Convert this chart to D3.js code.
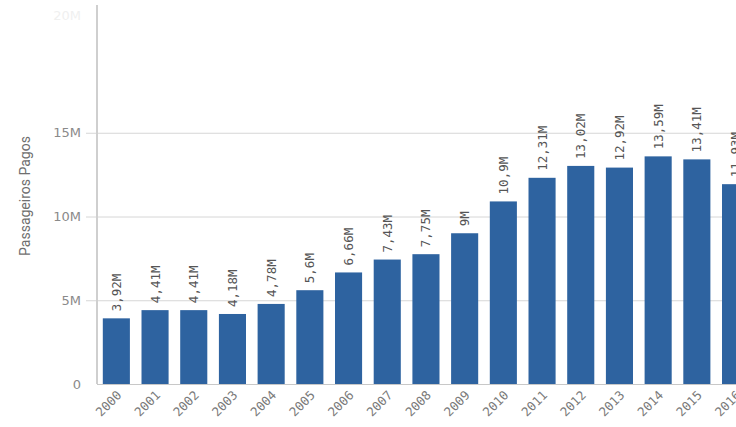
<!DOCTYPE html>
<html>
<head>
<meta charset="utf-8">
<script src="https://cdn.jsdelivr.net/npm/d3@7"></script>
<style>
	html, body { margin: 0; background: #fff; overflow: hidden; }
	svg { display: block; }
</style>
</head>
<body>
<svg id="chart" width="736" height="427"></svg>
<script>
'use strict';

// data
const years = ['2000','2001','2002','2003','2004','2005','2006','2007','2008',
	'2009','2010','2011','2012','2013','2014','2015','2016'];
const passengers = [3.92, 4.41, 4.41, 4.18, 4.78, 5.6, 6.66, 7.43, 7.75,
	9, 10.9, 12.31, 13.02, 12.92, 13.59, 13.41, 11.93];
const valueLabels = ['3,92M','4,41M','4,41M','4,18M','4,78M','5,6M','6,66M','7,43M','7,75M',
	'9M','10,9M','12,31M','13,02M','12,92M','13,59M','13,41M','11,93M'];
const yTicks = [0, 5, 10, 15];
const yTickLabels = ['0', '5M', '10M', '15M'];
const yTitle = 'Passageiros Pagos';

const svg = d3.select('#chart');
const left = 97, bottom = 384, step = 38.7;

const x = d3.scaleBand()
	.domain(years)
	.range([left, left + step * years.length])
	.paddingInner(0.3)
	.paddingOuter(0.15);

const y = d3.scaleLinear()
	.domain([0, 20])
	.range([bottom, 49]);

/* gridlines */
svg.append('g')
	.selectAll('line')
	.data(yTicks.slice(1))
	.join('line')
		.attr('x1', 86)
		.attr('x2', 736)
		.attr('y1', d => y(d) + 0.5)
		.attr('y2', d => y(d) + 0.5)
		.attr('stroke', '#d6d6d6');

/* y tick labels */
svg.append('g')
	.selectAll('text')
	.data(yTicks)
	.join('text')
		.attr('x', 81)
		.attr('y', d => y(d))
		.attr('dy', '0.35em')
		.attr('text-anchor', 'end')
		.style('font-family', 'DejaVu Sans')
		.style('font-size', '13px')
		.attr('fill', '#8a8a8a')
		.text((d, i) => yTickLabels[i]);

// faded top label, the chart fades out there
svg.append('text')
	.attr('x', 81)
	.attr('y', 15)
	.attr('dy', '0.35em')
	.attr('text-anchor', 'end')
	.style('font-family', 'DejaVu Sans')
	.style('font-size', '13px')
	.attr('fill', '#f0f0f0')
	.text('20M');

/* axis title */
svg.append('text')
	.attr('transform', 'translate(30,196) rotate(-90)')
	.attr('text-anchor', 'middle')
	.style('font-family', 'Roboto')
	.style('font-size', '14px')
	.attr('fill', '#6f6f6f')
	.text(yTitle);

/* bars */
svg.append('g')
	.selectAll('rect')
	.data(passengers)
	.join('rect')
		.attr('x', (d, i) => x(years[i]))
		.attr('y', d => y(d))
		.attr('width', x.bandwidth())
		.attr('height', d => bottom - y(d))
		.attr('fill', '#2e63a0');

/* axis lines */
svg.append('line')
	.attr('x1', left).attr('x2', left)
	.attr('y1', 5).attr('y2', bottom)
	.attr('stroke', '#cfcfcf')
	.attr('stroke-width', 2);
svg.append('line')
	.attr('x1', left).attr('x2', 736)
	.attr('y1', bottom + 0.5).attr('y2', bottom + 0.5)
	.attr('stroke', '#c8c8c8');

/* value labels */
svg.append('g')
	.selectAll('text')
	.data(passengers)
	.join('text')
		.attr('transform', (d, i) =>
			`translate(${x(years[i]) + x.bandwidth() / 2 + 4.5},${y(d) - 7}) rotate(-90)`)
		.attr('text-anchor', 'start')
		.style('font-family', 'DejaVu Sans Mono')
		.style('font-size', '12.5px')
		.attr('fill', '#555')
		.text((d, i) => valueLabels[i]);

/* x labels */
svg.append('g')
	.selectAll('text')
	.data(years)
	.join('text')
		.attr('transform', d =>
			`translate(${x(d) + x.bandwidth() / 2 + 6},${bottom + 12}) rotate(-45)`)
		.attr('text-anchor', 'end')
		.style('font-family', 'DejaVu Sans Mono')
		.style('font-size', '12.5px')
		.attr('fill', '#7a7a7a')
		.text(d => d);
</script>
</body>
</html>
